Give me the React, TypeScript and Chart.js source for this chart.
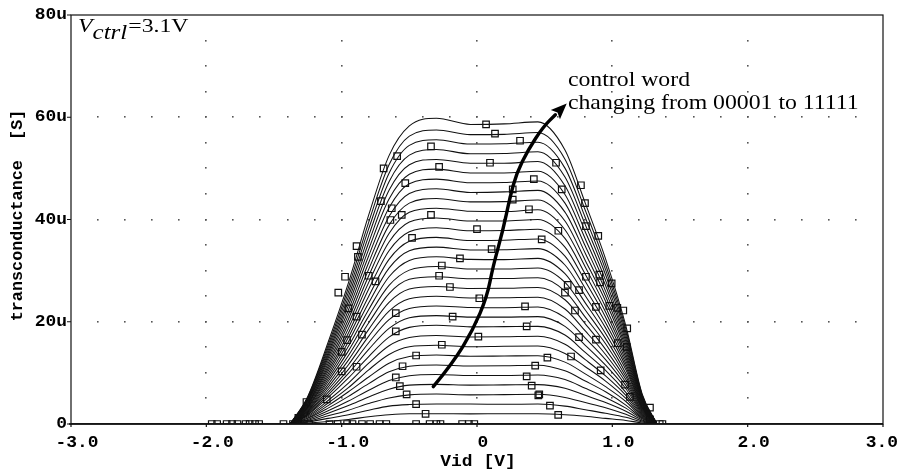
import React, { useEffect, useRef } from 'react';
import { Chart, registerables } from 'chart.js';

Chart.register(...registerables);

// ---- data (Vid in volts, transconductance in uS) ----
const vid = [-1.38, -1.25, -1.1, -0.95, -0.8, -0.65, -0.5, -0.3, -0.05, 0.2, 0.45, 0.65, 0.8, 0.95, 1.1, 1.22, 1.33];

const w00001 = [0, 0.2, 0.5, 0.9, 1.4, 1.8, 2.0, 2.0, 1.98, 2.0, 2.0, 1.8, 1.5, 1.1, 0.7, 0.2, 0];
const w00010 = [0, 0.4, 1.1, 1.8, 2.7, 3.5, 3.8, 3.9, 3.9, 3.85, 3.9, 3.5, 2.8, 2.1, 1.3, 0.4, 0];
const w00011 = [0, 0.5, 1.6, 2.7, 4.0, 5.1, 5.7, 5.85, 5.7, 5.75, 5.8, 5.2, 4.2, 3.2, 1.9, 0.6, 0];
const w00100 = [0, 0.7, 2.1, 3.6, 5.3, 6.8, 7.6, 7.75, 7.6, 7.65, 7.7, 7.0, 5.6, 4.2, 2.5, 0.8, 0];
const w00101 = [0, 0.9, 2.6, 4.5, 6.6, 8.5, 9.45, 9.7, 9.5, 9.5, 9.6, 8.7, 7.0, 5.2, 3.1, 1.0, 0];
const w00110 = [0, 1.1, 3.1, 5.4, 7.9, 10.2, 11.3, 11.55, 11.35, 11.4, 11.5, 10.4, 8.4, 6.3, 3.7, 1.15, 0];
const w00111 = [0, 1.2, 3.6, 6.3, 9.2, 11.9, 13.2, 13.5, 13.25, 13.3, 13.35, 12.1, 9.8, 7.3, 4.4, 1.3, 0];
const w01000 = [0, 1.4, 4.1, 7.1, 10.6, 13.6, 15.1, 15.4, 15.1, 15.2, 15.25, 13.8, 11.2, 8.4, 5.0, 1.5, 0];
const w01001 = [0, 1.6, 4.6, 8.0, 11.9, 15.3, 16.9, 17.3, 17.0, 17.05, 17.15, 15.6, 12.6, 9.4, 5.6, 1.7, 0];
const w01010 = [0, 1.8, 5.2, 9.0, 13.2, 17.0, 18.9, 19.3, 19.0, 19.05, 19.1, 17.4, 14.0, 10.5, 6.2, 1.9, 0];
const w01011 = [0, 1.9, 5.7, 9.9, 14.6, 18.7, 20.8, 21.2, 20.9, 20.9, 21.0, 19.1, 15.4, 11.5, 6.9, 2.1, 0];
const w01100 = [0, 2.1, 6.2, 10.7, 15.9, 20.4, 22.6, 23.1, 22.8, 22.75, 22.9, 20.8, 16.8, 12.6, 7.5, 2.3, 0];
const w01101 = [0, 2.3, 6.7, 11.6, 17.2, 22.1, 24.5, 25.0, 24.65, 24.7, 24.8, 22.5, 18.2, 13.6, 8.1, 2.5, 0];
const w01110 = [0, 2.5, 7.2, 12.5, 18.5, 23.8, 26.4, 26.9, 26.5, 26.55, 26.7, 24.3, 19.6, 14.6, 8.7, 2.7, 0];
const w01111 = [0, 2.6, 7.75, 13.4, 19.8, 25.5, 28.3, 28.8, 28.4, 28.45, 28.6, 26.0, 20.9, 15.7, 9.3, 2.9, 0];
const w10000 = [0, 2.8, 8.3, 14.3, 21.1, 27.1, 30.1, 30.8, 30.3, 30.3, 30.5, 27.7, 22.3, 16.7, 9.9, 3.1, 0];
const w10001 = [0, 3.0, 8.8, 15.2, 22.4, 28.8, 32.0, 32.7, 32.2, 32.15, 32.4, 29.4, 23.7, 17.7, 10.6, 3.25, 0];
const w10010 = [0, 3.2, 9.3, 16.1, 23.7, 30.5, 33.9, 34.6, 34.05, 34.1, 34.3, 31.1, 25.1, 18.8, 11.2, 3.4, 0];
const w10011 = [0, 3.3, 9.8, 16.95, 25.0, 32.2, 35.75, 36.5, 35.9, 35.95, 36.2, 32.85, 26.5, 19.8, 11.8, 3.6, 0];
const w10100 = [0, 3.5, 10.3, 17.8, 26.4, 33.9, 37.6, 38.4, 37.8, 37.85, 38.1, 34.6, 27.9, 20.9, 12.4, 3.8, 0];
const w10101 = [0, 3.7, 10.8, 18.7, 27.7, 35.6, 39.5, 40.3, 39.7, 39.7, 40.0, 36.3, 29.3, 21.9, 13.0, 4.0, 0];
const w10110 = [0, 3.9, 11.3, 19.6, 29.0, 37.25, 41.4, 42.2, 41.6, 41.55, 41.9, 38.0, 30.7, 22.9, 13.65, 4.2, 0];
const w10111 = [0, 4.0, 11.85, 20.5, 30.3, 38.9, 43.2, 44.1, 43.45, 43.5, 43.8, 39.7, 32.0, 24.0, 14.3, 4.4, 0];
const w11000 = [0, 4.2, 12.4, 21.4, 31.6, 40.6, 45.1, 46.0, 45.3, 45.4, 45.7, 41.45, 33.4, 25.0, 14.9, 4.6, 0];
const w11001 = [0, 4.4, 12.9, 22.3, 32.9, 42.3, 47.0, 47.9, 47.2, 47.25, 47.55, 43.2, 34.8, 26.0, 15.5, 4.8, 0];
const w11010 = [0, 4.6, 13.4, 23.2, 34.2, 44.0, 48.85, 49.85, 49.1, 49.1, 49.45, 44.9, 36.2, 27.1, 16.1, 5.0, 0];
const w11011 = [0, 4.7, 13.9, 24.05, 35.5, 45.7, 50.7, 51.75, 51.0, 51.0, 51.35, 46.6, 37.6, 28.1, 16.7, 5.15, 0];
const w11100 = [0, 4.9, 14.4, 24.9, 36.85, 47.4, 52.6, 53.7, 52.85, 52.9, 53.25, 48.3, 39.0, 29.2, 17.35, 5.3, 0];
const w11101 = [0, 5.1, 14.9, 25.8, 38.2, 49.05, 54.5, 55.6, 54.75, 54.8, 55.1, 50.05, 40.4, 30.2, 18.0, 5.5, 0];
const w11110 = [0, 5.3, 15.4, 26.7, 39.5, 50.7, 56.3, 57.5, 56.6, 56.65, 57.0, 51.8, 41.8, 31.2, 18.6, 5.7, 0];
const w11111 = [0, 5.4, 16.0, 27.6, 40.9, 52.5, 58.3, 59.8, 58.6, 58.7, 59.1, 53.6, 43.2, 32.3, 19.2, 5.9, 0];

const controlWords = [
  '00001', '00010', '00011', '00100', '00101', '00110', '00111', '01000', '01001', '01010',
  '01011', '01100', '01101', '01110', '01111', '10000', '10001', '10010', '10011', '10100',
  '10101', '10110', '10111', '11000', '11001', '11010', '11011', '11100', '11101', '11110', '11111',
];
const curves = [
  w00001, w00010, w00011, w00100, w00101, w00110, w00111, w01000, w01001, w01010,
  w01011, w01100, w01101, w01110, w01111, w10000, w10001, w10010, w10011, w10100,
  w10101, w10110, w10111, w11000, w11001, w11010, w11011, w11100, w11101, w11110, w11111,
];

// zero-level trace (whole sweep)
const zeroVid = [-3, 3];
const zeroGm = [0, 0];

// square simulator markers
const markerVid = [
  -1.96, -1.92, -1.85, -1.81, -1.77, -1.71, -1.68, -1.64, -1.61, -1.43, -1.36, -1.32, -1.28, -1.24,
  -1.09, -1.03, -0.96, -0.92, -0.85, -0.79, -0.72, -0.67, -0.45, -0.35, -0.3, -0.27, -0.11, -0.06, -0.02, 1.35, 1.37,
  -1.32, -1.26, -1.11, -1.0, -0.89, -1.0, -0.96, -0.85, -0.95, -0.89, -1.025, -0.975, -0.8, -0.75, -0.89, -0.88,
  -0.71, -0.63, -0.64, -0.556, -0.69, -0.59, -0.53, -0.48, -0.34, -0.28, -0.34, -0.26, -0.28, -0.2, -0.6, -0.6,
  -0.18, -0.26, -0.45, -0.55, -0.6, -0.57, -0.52, -0.45, -0.38, -0.126,
  0.067, 0.133, 0.318, 0.096, 0.42, 0.264, 0.264, 0.384, 0.0, 0.108, 0.017, 0.01, 0.355, 0.367, 0.43, 0.367,
  0.404, 0.453, 0.539, 0.6,
  0.584, 0.768, 0.626, 0.798, 0.805, 0.601, 0.896, 0.478, 0.805, 0.904, 0.909, 0.995, 0.67, 0.65, 0.754, 0.724,
  0.879, 0.978, 1.037, 1.081, 1.11, 1.04, 0.754, 0.879, 1.106, 0.52, 0.695, 0.914, 1.094, 1.13, 1.278, 1.278, 0.46,
];
const markerGm = [
  0, 0, 0, 0, 0, 0, 0, 0, 0, 0, 0, 0, 0, 0,
  0, 0, 0, 0, 0, 0, 0, 0, 0, 0, 0, 0, 0, 0, 0, 0, 0,
  1.2, 4.3, 4.8, 10.3, 11.2, 14.1, 16.4, 17.5, 22.6, 21.0, 25.7, 28.8, 29.0, 27.9, 34.8, 32.7,
  43.6, 42.2, 39.9, 40.9, 50.0, 52.4, 47.1, 36.4, 54.3, 50.3, 40.9, 31.0, 29.0, 26.8, 21.7, 18.1,
  21.0, 15.5, 13.4, 11.3, 9.1, 7.4, 5.8, 3.9, 2.0, 32.4,
  58.6, 56.8, 55.4, 51.1, 47.9, 45.9, 43.9, 42.0, 38.1, 34.2, 24.6, 17.1, 23.0, 19.1, 11.4, 9.3,
  7.5, 5.6, 3.6, 1.8,
  51.1, 46.7, 45.9, 43.2, 38.7, 37.8, 36.8, 36.1, 28.8, 29.2, 27.7, 27.5, 27.2, 25.7, 26.2, 22.2,
  22.9, 23.1, 22.7, 22.2, 18.7, 15.8, 17.0, 16.5, 15.1, 13.0, 13.2, 10.5, 7.7, 5.3, 3.2, 0.9, 5.8,
];

// axes
const xMin = -3, xMax = 3, yMin = 0, yMax = 80;
const xTickValues = [-3, -2, -1, 0, 1, 2, 3];
const xTickLabels = ['-3.0', '-2.0', '-1.0', '0', '1.0', '2.0', '3.0'];
const yTickValues = [0, 20, 40, 60, 80];
const yTickLabels = ['0', '20u', '40u', '60u', '80u'];
const xGridValues = [-2, -1, 0, 1, 2];
const yGridValues = [20, 40, 60];
const xTitle = 'Vid [V]';
const yTitle = 'transconductance  [S]';

// annotations (data coordinates)
const ctrlLabelAt = [-2.948, 76.6];
const wordLabelAt = [0.672, 66.2];
const wordLines = ['control word', 'changing from 00001 to 11111'];
const arrowVid = [-0.323, -0.177, -0.03, 0.074, 0.118, 0.192, 0.244, 0.293, 0.377, 0.488, 0.663];
const arrowGm = [7.3, 12.0, 18.4, 24.9, 30.8, 37.9, 44.4, 49.1, 53.6, 58.1, 62.7];

const MONO = '"Liberation Mono", "DejaVu Sans Mono", monospace';
const SERIF = '"Liberation Serif", "DejaVu Serif", serif';

function sText(ctx: CanvasRenderingContext2D, text: string, x: number, y: number, sx: number, align: CanvasTextAlign) {
  ctx.save();
  ctx.translate(x, y);
  ctx.scale(sx, 1);
  ctx.textAlign = align;
  ctx.fillText(text, 0, 0);
  ctx.restore();
}

const paperPlugin = {
  id: 'paper',
  beforeDraw(chart: any) {
    const { ctx, width, height } = chart;
    ctx.save();
    ctx.fillStyle = '#fff';
    ctx.fillRect(0, 0, width, height);
    ctx.restore();
  },
  beforeDatasetsDraw(chart: any) {
    const { ctx, scales: { x, y } } = chart;
    ctx.save();
    ctx.fillStyle = '#555';
    for (const gx of xGridValues) {
      const px = Math.round(x.getPixelForValue(gx));
      for (let v = yMin + 5; v < yMax; v += 5) {
        const py = Math.round(y.getPixelForValue(v));
        ctx.fillRect(px - 1, py - 1, 1.6, 1.6);
      }
    }
    for (const gy of yGridValues) {
      const py = Math.round(y.getPixelForValue(gy));
      for (let k = -14; k <= 14; k++) {
        const px = Math.round(x.getPixelForValue(k * 0.2));
        ctx.fillRect(px - 1, py - 1, 1.6, 1.6);
      }
    }
    ctx.restore();
  },
  afterDatasetsDraw(chart: any) {
    const { ctx, chartArea: { left, right, top, bottom }, scales: { x, y }, width } = chart;
    ctx.save();
    // frame
    ctx.strokeStyle = '#111';
    ctx.lineWidth = 1.2;
    ctx.strokeRect(left, top, right - left, bottom - top);
    ctx.lineWidth = 1.6;
    ctx.beginPath();
    ctx.moveTo(left - 2, bottom);
    ctx.lineTo(right, bottom);
    ctx.stroke();
    // ticks
    ctx.lineWidth = 1.2;
    ctx.beginPath();
    for (const v of yTickValues) {
      const py = y.getPixelForValue(v);
      ctx.moveTo(left - 4, py);
      ctx.lineTo(left, py);
    }
    for (const v of xTickValues) {
      const px = x.getPixelForValue(v);
      ctx.moveTo(px, bottom);
      ctx.lineTo(px, bottom + 3);
    }
    ctx.stroke();
    // tick labels
    ctx.fillStyle = '#000';
    ctx.font = `bold 16px ${MONO}`;
    ctx.textBaseline = 'middle';
    yTickValues.forEach((v, i) => {
      sText(ctx, yTickLabels[i], left - 4, y.getPixelForValue(v), 1.12, 'right');
    });
    ctx.textBaseline = 'alphabetic';
    xTickValues.forEach((v, i) => {
      const w = ctx.measureText(xTickLabels[i]).width * 1.12;
      let cx = x.getPixelForValue(v) + 6;
      if (cx + w / 2 > width - 1) cx = width - 1 - w / 2;
      sText(ctx, xTickLabels[i], cx, bottom + 23, 1.12, 'center');
    });
    // axis titles
    sText(ctx, xTitle, (left + right) / 2 + 1, bottom + 42, 1.12, 'center');
    ctx.save();
    ctx.translate(18, (top + bottom) / 2 - 4);
    ctx.rotate(-Math.PI / 2);
    ctx.scale(1.05, 1);
    ctx.textAlign = 'center';
    ctx.textBaseline = 'middle';
    ctx.fillText(yTitle, 0, 0);
    ctx.restore();

    // V_ctrl label
    let cx = x.getPixelForValue(ctrlLabelAt[0]);
    const cy = y.getPixelForValue(ctrlLabelAt[1]);
    ctx.font = `italic 19px ${SERIF}`;
    sText(ctx, 'V', cx, cy, 1.25, 'left');
    cx += ctx.measureText('V').width * 1.25;
    ctx.font = `italic 20px ${SERIF}`;
    sText(ctx, 'ctrl', cx, cy + 6.5, 1.25, 'left');
    cx += ctx.measureText('ctrl').width * 1.25 + 1;
    ctx.font = `19px ${SERIF}`;
    sText(ctx, '=3.1V', cx, cy, 1.25, 'left');

    // control word text
    ctx.font = `22px ${SERIF}`;
    const wx = x.getPixelForValue(wordLabelAt[0]);
    const wy = y.getPixelForValue(wordLabelAt[1]);
    wordLines.forEach((t, i) => sText(ctx, t, wx, wy + i * 23, 1.08, 'left'));

    // arrow
    const pts = arrowVid.map((v, i) => [x.getPixelForValue(v), y.getPixelForValue(arrowGm[i])]);
    const tip = pts[pts.length - 1];
    const prev = pts[pts.length - 2];
    const ang = Math.atan2(tip[1] - prev[1], tip[0] - prev[0]);
    const headLen = 16, headHalf = 6.5;
    const base = [tip[0] - headLen * Math.cos(ang), tip[1] - headLen * Math.sin(ang)];
    const linePts = pts.slice(0, -1).concat([base]);
    ctx.strokeStyle = '#000';
    ctx.lineWidth = 3.4;
    ctx.lineCap = 'round';
    ctx.lineJoin = 'round';
    ctx.beginPath();
    ctx.moveTo(linePts[0][0], linePts[0][1]);
    for (let i = 1; i < linePts.length - 1; i++) {
      const mx = (linePts[i][0] + linePts[i + 1][0]) / 2;
      const my = (linePts[i][1] + linePts[i + 1][1]) / 2;
      ctx.quadraticCurveTo(linePts[i][0], linePts[i][1], mx, my);
    }
    const last = linePts[linePts.length - 1];
    ctx.lineTo(last[0], last[1]);
    ctx.stroke();
    ctx.fillStyle = '#000';
    ctx.beginPath();
    ctx.moveTo(tip[0], tip[1]);
    ctx.lineTo(base[0] + headHalf * Math.sin(ang), base[1] - headHalf * Math.cos(ang));
    ctx.lineTo(base[0] + 3 * Math.cos(ang), base[1] + 3 * Math.sin(ang));
    ctx.lineTo(base[0] - headHalf * Math.sin(ang), base[1] + headHalf * Math.cos(ang));
    ctx.closePath();
    ctx.fill();
    ctx.restore();
  },
};

export default function App() {
  const canvasRef = useRef<HTMLCanvasElement | null>(null);

  useEffect(() => {
    if (!canvasRef.current) return;
    const datasets: any[] = curves.map((c, i) => ({
      label: controlWords[i],
      data: vid.map((v, j) => ({ x: v, y: c[j] })),
      showLine: true,
      borderColor: '#111',
      borderWidth: 1.05,
      pointRadius: 0,
      cubicInterpolationMode: 'monotone',
      fill: false,
    }));
    datasets.push({
      label: '00000',
      data: zeroVid.map((v, j) => ({ x: v, y: zeroGm[j] })),
      showLine: true,
      borderColor: '#111',
      borderWidth: 1.5,
      pointRadius: 0,
    });
    datasets.push({
      label: 'markers',
      data: markerVid.map((v, j) => ({ x: v, y: markerGm[j] })),
      showLine: false,
      pointStyle: 'rect',
      pointRadius: 4.6,
      borderColor: '#111',
      borderWidth: 1.2,
      backgroundColor: 'rgba(0,0,0,0)',
    });

    const chart = new Chart(canvasRef.current, {
      type: 'scatter',
      data: { datasets },
      options: {
        animation: false,
        responsive: true,
        maintainAspectRatio: false,
        events: [],
        layout: { padding: { left: 71, right: 16, top: 15, bottom: 47 } },
        plugins: { legend: { display: false }, tooltip: { enabled: false } },
        scales: {
          x: { type: 'linear', min: xMin, max: xMax, display: false },
          y: { type: 'linear', min: yMin, max: yMax, display: false },
        },
      },
      plugins: [paperPlugin],
    } as any);
    return () => chart.destroy();
  }, []);

  return (
    <div style={{ position: 'absolute', left: 0, top: 0, width: 899, height: 471, background: '#fff' }}>
      <canvas ref={canvasRef} />
    </div>
  );
}
